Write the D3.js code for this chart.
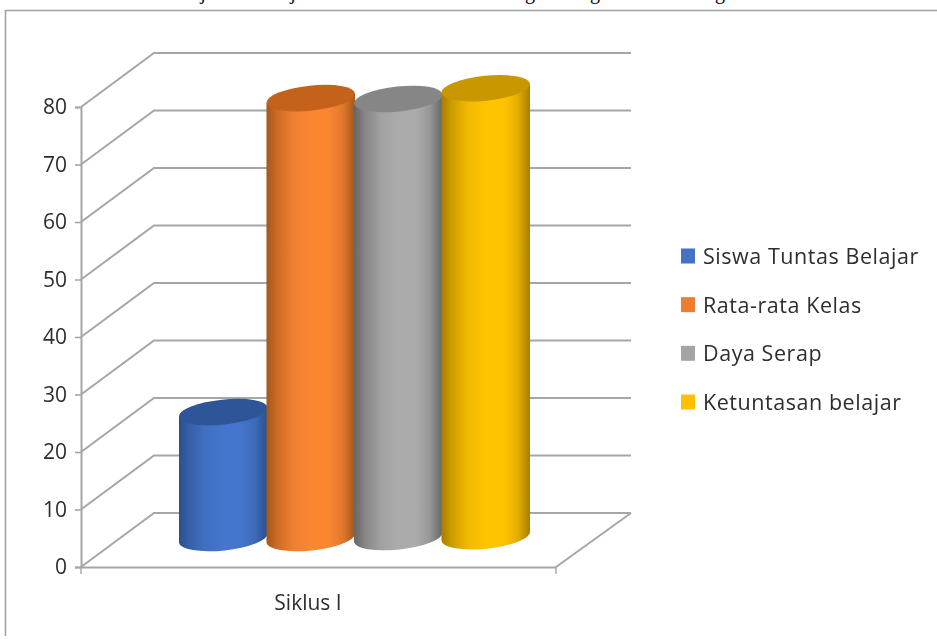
<!DOCTYPE html>
<html>
<head>
<meta charset="utf-8">
<script src="https://cdn.jsdelivr.net/npm/d3@7/dist/d3.min.js"></script>
<style>
html,body{margin:0;padding:0;background:#fff;overflow:hidden}
svg{display:block}
text{font-family:"Open Sans",Lato,sans-serif;fill:#2e2e2e}
</style>
</head>
<body>
<svg id="c" width="937" height="639"></svg>
<script>
const category = ["Siklus I"];
const seriesNames = ["Siswa Tuntas Belajar","Rata-rata Kelas","Daya Serap","Ketuntasan belajar"];
const seriesValues = [21.9, 76.5, 76.2, 77.9];
const sideColors = ["#2a4f8c","#a5561b","#666666","#a67e00"];
const midColors = ["#4575cc","#fb8633","#ababab","#ffc400"];
const topColors = ["#2f5597","#c4621f","#868686","#c99800"];
const legendColors = ["#4472c4","#ed7d31","#a5a5a5","#ffc000"];
const yTicks = [0,10,20,30,40,50,60,70,80];
const titleGlyphs = ["j","j","g","g","g"];
const titleGlyphX = [203,293,530,595,720];

const svg = d3.select("#c");
const defs = svg.append("defs");
const blur = defs.append("filter").attr("id","soft").attr("x","-5%").attr("y","-5%").attr("width","110%").attr("height","110%");
blur.append("feGaussianBlur").attr("stdDeviation",0.6);

seriesNames.forEach((n,i)=>{
  const mix = d3.interpolateRgb(sideColors[i],midColors[i]);
  const g = defs.append("linearGradient").attr("id","cyl"+i).attr("x1",0).attr("x2",1).attr("y1",0).attr("y2",0);
  [[0,sideColors[i]],[0.12,mix(0.45)],[0.3,mix(0.85)],[0.5,midColors[i]],[0.7,midColors[i]],[0.86,mix(0.7)],[1,sideColors[i]]]
    .forEach(s=>g.append("stop").attr("offset",s[0]).attr("stop-color",s[1]));
});

// page title, cut off by the top edge of the picture
svg.append("g").selectAll("text").data(titleGlyphs).join("text")
  .attr("x",(d,i)=>titleGlyphX[i]).attr("y",-1)
  .style("font-family","'Liberation Serif',serif").style("fill","#000").attr("font-size",20)
  .attr("text-anchor","middle").text(d=>d);

const root = svg.append("g").attr("filter","url(#soft)");

// frame
root.append("path").attr("d","M5.5,636V10.5H937").attr("fill","none").attr("stroke","#a0a0a0").attr("stroke-width",1.5);

// scales
const left = 81, right = 556, depthX = 73, depthY = -54;
const y = d3.scaleLinear().domain([0,80]).range([567,107]);
const xCat = d3.scaleBand().domain(category).range([left,right]);
const xSer = d3.scaleBand().domain(seriesNames).range([179.5,529.5]).padding(0);

const grid = "#a6a6a6";
// gridlines: side wall and back wall
const gridG = root.append("g").attr("fill","none").attr("stroke",grid).attr("stroke-width",2);
gridG.selectAll("path").data(yTicks).join("path")
  .attr("d",d=>`M${left},${y(d)}L${left+depthX},${y(d)+depthY}H${right+depthX+2}`);
gridG.append("path").attr("class","floor").attr("d",`M${right},${y(0)}L${right+depthX+2},${y(0)+depthY}`);

// axes
const yAxis = d3.axisLeft(y).tickValues(yTicks).tickSize(6).tickPadding(6);
const ay = root.append("g").attr("transform",`translate(${left},0)`).call(yAxis);
ay.select(".domain").attr("stroke",grid).attr("stroke-width",2);
ay.selectAll(".tick line").attr("stroke",grid).attr("stroke-width",1.6);
ay.selectAll(".tick text").attr("font-size",21).attr("dx",-2).style("font-family","'Open Sans',sans-serif").style("fill","#2e2e2e");

const xAxis = d3.axisBottom(xCat).tickValues([]).tickSize(0);
const ax = root.append("g").attr("transform",`translate(0,${y(0)})`).call(xAxis);
ax.select(".domain").attr("stroke",grid).attr("stroke-width",2.2);
root.selectAll(".xend").data([left,right]).join("line").attr("class","xend")
  .attr("x1",d=>d).attr("x2",d=>d).attr("y1",y(0)).attr("y2",y(0)+7).attr("stroke",grid).attr("stroke-width",1.4);
root.selectAll(".xlab").data(category).join("text").attr("class","xlab")
  .attr("x",308).attr("y",610).attr("text-anchor","middle").attr("font-size",21).text(d=>d);

// cylinders
const rx = 44.5, ry = 12.5, tilt = -6, rad = tilt*Math.PI/180;
const ex = rx*Math.cos(rad), ey = rx*Math.sin(rad);
const cylData = seriesNames.map((n,i)=>({n,i,v:seriesValues[i]}));
const baseShift = i => -29 - (i>=2 ? (i-1)*0.9 : 0);
const cyl = root.append("g").selectAll("g").data(cylData).join("g");
cyl.append("path").attr("fill",d=>`url(#cyl${d.i})`).attr("d",d=>{
  const cx = xSer(d.n)+xSer.bandwidth()/2;
  const yt = y(d.v)+baseShift(d.i), yb = y(0)+baseShift(d.i);
  return `M${cx-ex},${yt-ey}L${cx-ex},${yb-ey}A${rx},${ry} ${tilt} 0 0 ${cx+ex},${yb+ey}L${cx+ex},${yt+ey}Z`;
});
cyl.append("ellipse")
  .attr("cx",0).attr("cy",0).attr("rx",rx).attr("ry",ry)
  .attr("transform",d=>`translate(${xSer(d.n)+xSer.bandwidth()/2},${y(d.v)+baseShift(d.i)}) rotate(${tilt})`)
  .attr("fill",d=>topColors[d.i]);

// legend
const legendY = d3.scalePoint().domain(seriesNames).range([256,402]);
const leg = root.append("g").selectAll("g").data(seriesNames).join("g")
  .attr("transform",d=>`translate(681,${legendY(d)})`);
leg.append("rect").attr("x",0).attr("y",-7.5).attr("width",14).attr("height",15).attr("fill",(d,i)=>legendColors[i]);
leg.append("text").attr("x",22).attr("y",8).attr("font-size",21.5).attr("letter-spacing",0.55).text(d=>d);
</script>
</body>
</html>
